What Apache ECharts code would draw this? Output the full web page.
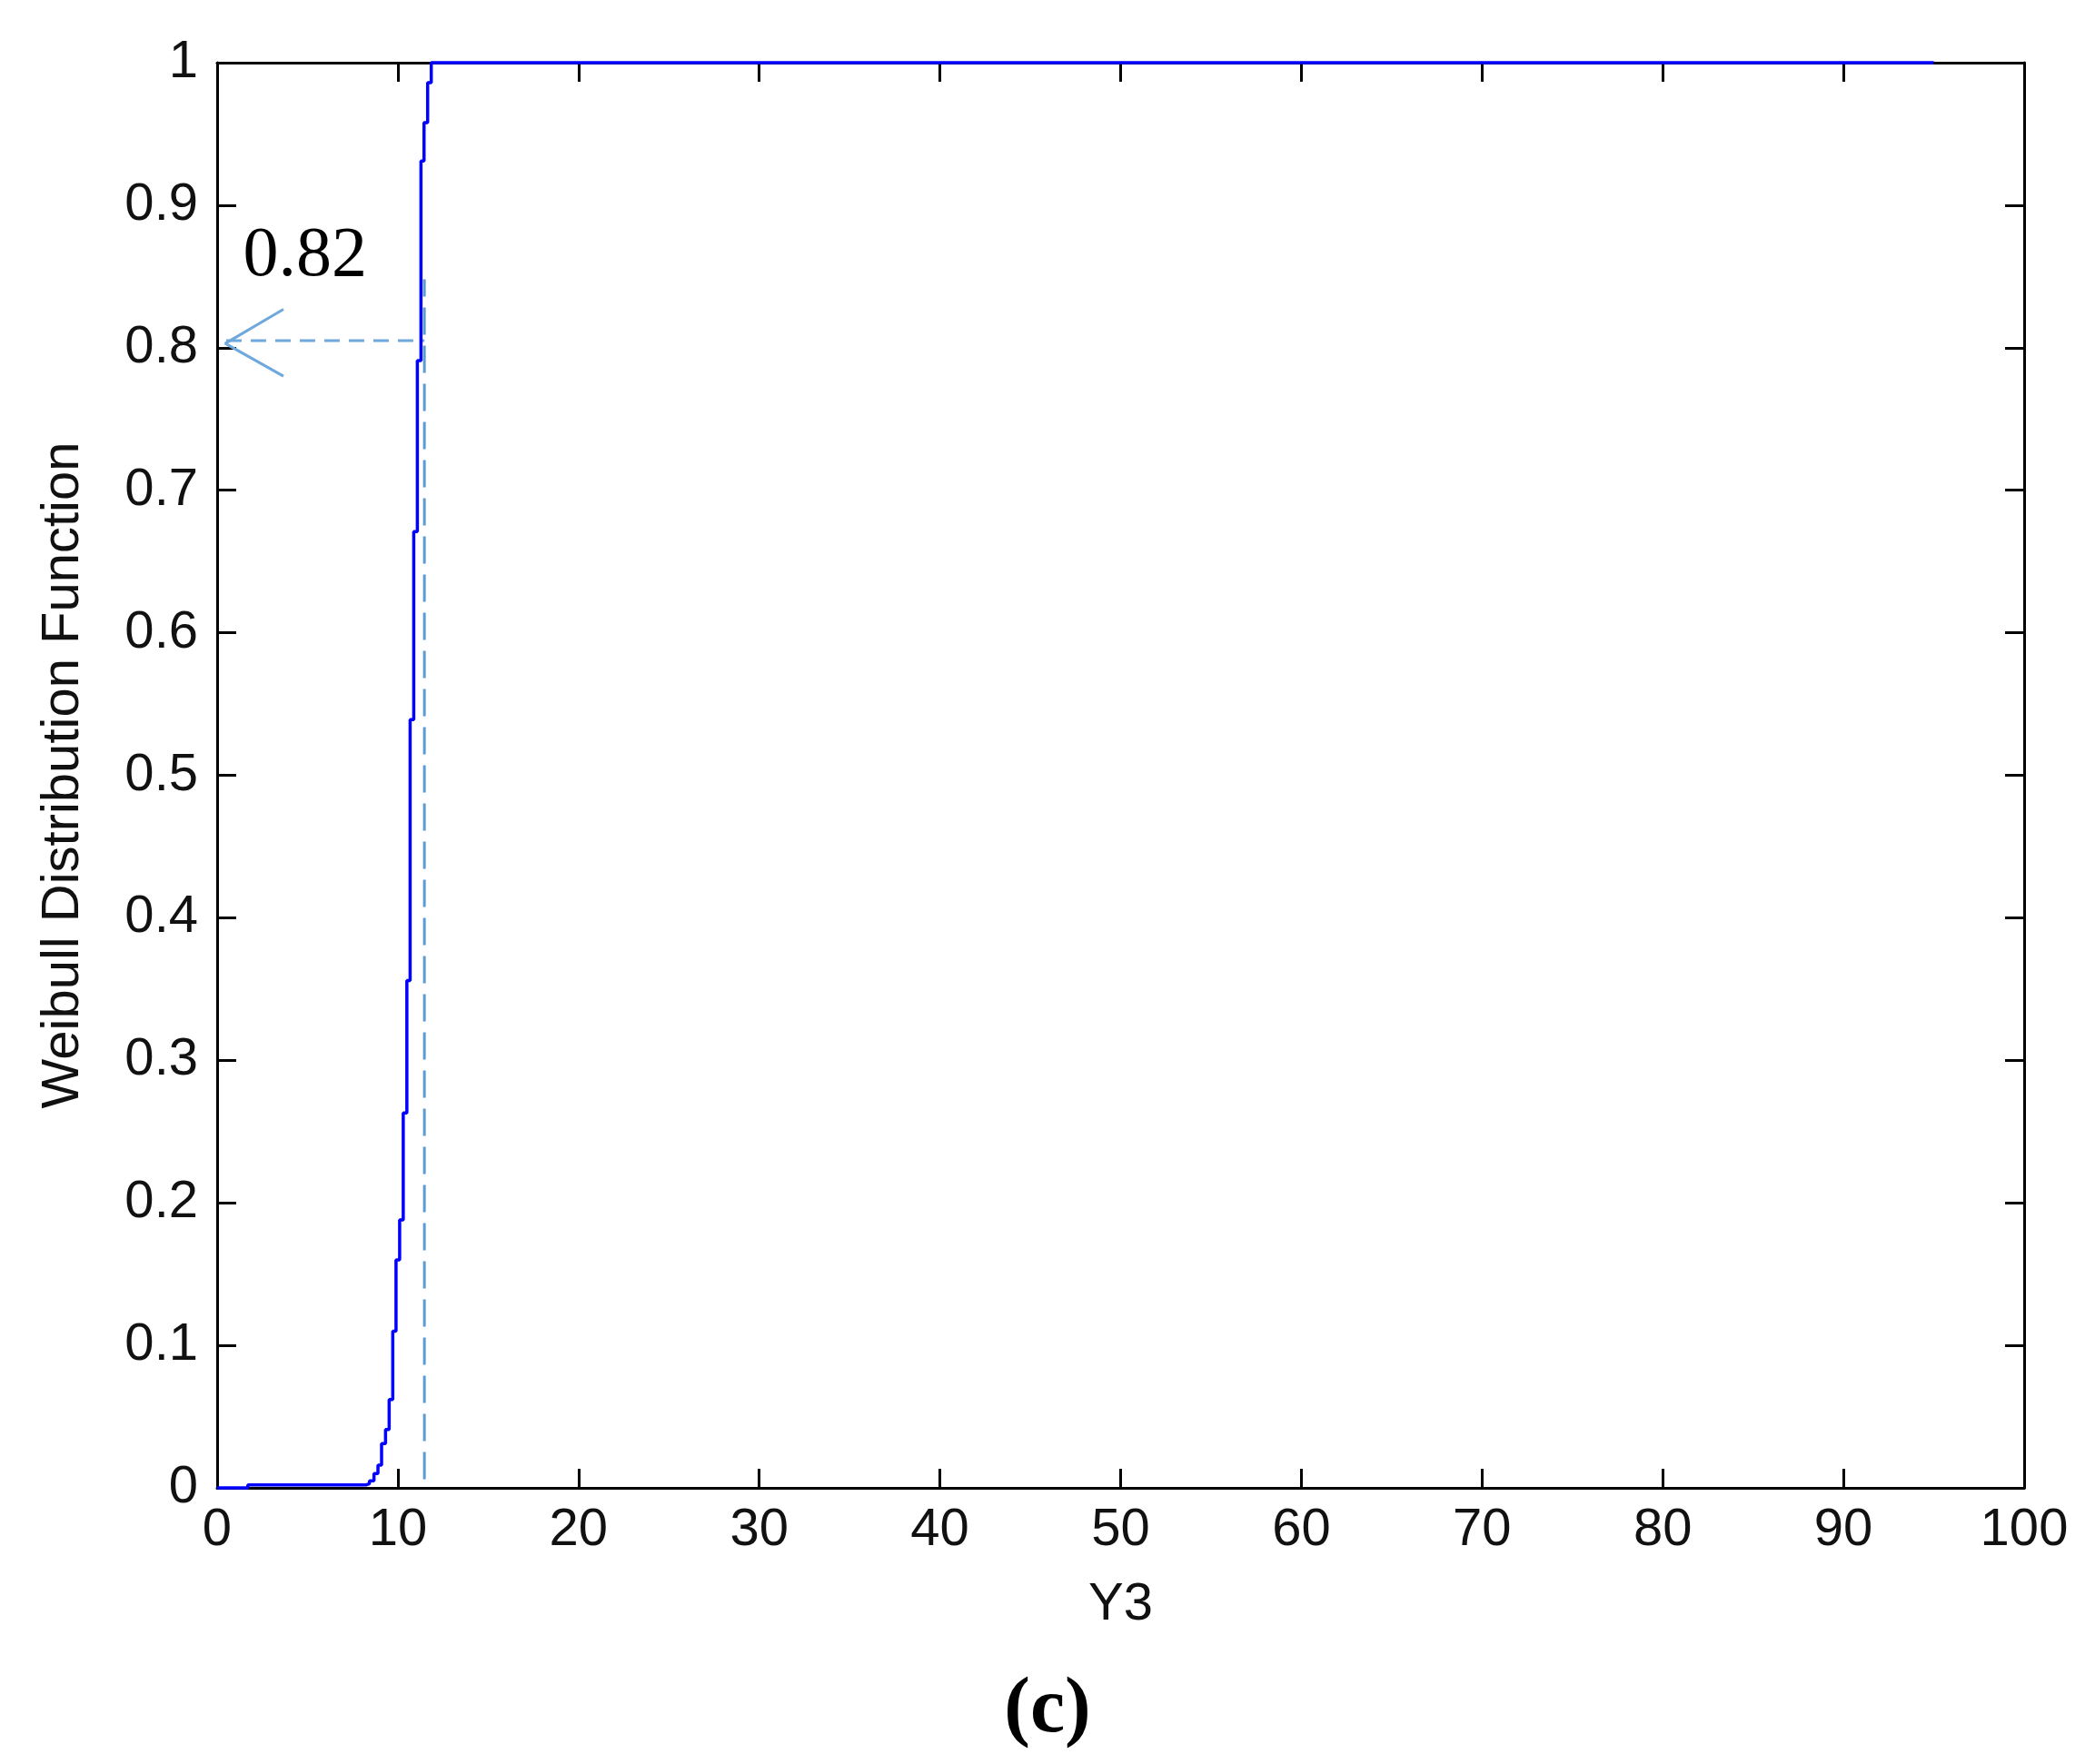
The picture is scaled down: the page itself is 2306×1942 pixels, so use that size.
<!DOCTYPE html>
<html><head><meta charset="utf-8">
<script src="https://cdn.jsdelivr.net/npm/echarts@6/dist/echarts.min.js"></script>
<style>html,body{margin:0;padding:0;background:#fff}#c{width:2306px;height:1942px}</style>
</head><body><div id="c"></div>
<script>
// Weibull CDF curve
const cdfX = [0, 1.7, 8.23, 8.43, 8.68, 8.9, 9.1, 9.32, 9.52, 9.72, 9.9, 10.1, 10.3, 10.5, 10.68, 10.88, 11.08, 11.28, 11.45, 11.65, 11.85, 95];
const cdfY = [0, 0.002, 0.003, 0.005, 0.01, 0.016, 0.031, 0.041, 0.062, 0.11, 0.16, 0.188, 0.263, 0.356, 0.539, 0.671, 0.791, 0.931, 0.958, 0.986, 1.0, 1.0];
// read-off guide lines
const guideVX = [11.47, 11.47];
const guideVY = [0.006, 0.848];
const guideHX = [0.5, 11.47];
const guideHY = [0.805, 0.805];
// arrow head
const arrowX = [3.67, 0.45, 3.67];
const arrowY = [0.827, 0.803, 0.78];
// annotation
const annotText = ['0.82'];
const annotX = [1.41];
const annotY = [0.864];
// axes
const xMin = 0, xMax = 100, xStep = 10;
const yMin = 0, yMax = 1, yStep = 0.1;
const xName = 'Y3';
const yName = 'Weibull Distribution Function';
const caption = '(c)';

const zip = (a, b) => a.map((v, i) => [v, b[i]]);
const sans = "'Liberation Sans', Arial, sans-serif";
const serif = "'Liberation Serif', 'Times New Roman', serif";
const axisLine = {show: true, onZero: false, lineStyle: {color: '#000', width: 3}};
const axisTick = {show: true, inside: true, length: 21, lineStyle: {color: '#000', width: 3}};
const lblStyle = {fontSize: 58, color: '#111', fontFamily: sans};

const chart = echarts.init(document.getElementById('c'), null, {renderer: 'canvas'});
chart.setOption({
  animation: false,
  backgroundColor: '#fff',
  grid: {left: 239, right: 78, top: 69, bottom: 304, containLabel: false},
  xAxis: [
    {type: 'value', min: xMin, max: xMax, interval: xStep, position: 'bottom',
     axisLine, axisTick, splitLine: {show: false},
     axisLabel: Object.assign({margin: 18, showMinLabel: true, showMaxLabel: true}, lblStyle),
     name: xName, nameLocation: 'middle', nameGap: 100,
     nameTextStyle: {fontSize: 58, color: '#111', fontFamily: sans}},
    {type: 'value', min: xMin, max: xMax, interval: xStep, position: 'top',
     axisLine, axisTick, splitLine: {show: false}, axisLabel: {show: false}}
  ],
  yAxis: [
    {type: 'value', min: yMin, max: yMax, interval: yStep, position: 'left',
     axisLine, axisTick, splitLine: {show: false},
     axisLabel: Object.assign({margin: 21, showMinLabel: true, showMaxLabel: true}, lblStyle),
     name: yName, nameLocation: 'middle', nameGap: 140, nameRotate: 90,
     nameTextStyle: {fontSize: 58, color: '#111', fontFamily: sans}},
    {type: 'value', min: yMin, max: yMax, interval: yStep, position: 'right',
     axisLine, axisTick, splitLine: {show: false}, axisLabel: {show: false}}
  ],
  series: [
    {type: 'line', name: 'guideV', data: zip(guideVX, guideVY), showSymbol: false, silent: true,
     lineStyle: {color: '#5B9BD5', width: 3, type: [30, 12]}, z: 3},
    {type: 'line', name: 'guideH', data: zip(guideHX, guideHY), showSymbol: false, silent: true,
     lineStyle: {color: '#6FA8DC', width: 3, type: [17, 10]}, z: 3},
    {type: 'line', name: 'arrow', data: zip(arrowX, arrowY), showSymbol: false, silent: true,
     lineStyle: {color: '#6FA8DC', width: 3}, z: 3},
    {type: 'line', name: 'cdf', data: zip(cdfX, cdfY), step: 'end', showSymbol: false, silent: true,
     clip: false, lineStyle: {color: '#0000FF', width: 3.5}, z: 5},
    {type: 'scatter', name: 'annot', data: zip(annotX, annotY), symbolSize: 1, silent: true,
     itemStyle: {color: 'rgba(0,0,0,0)', opacity: 1},
     label: {show: true, position: 'right', distance: 0, formatter: () => annotText[0],
             verticalAlign: 'middle', align: 'left',
             fontSize: 78, color: '#000', fontFamily: serif}, z: 6}
  ],
  graphic: [
    {type: 'text', x: 1153, y: 1884, silent: true,
     style: {text: caption, font: "bold 86px 'Liberation Serif', 'Times New Roman', serif",
             fill: '#000', align: 'center', verticalAlign: 'middle'}}
  ]
});
</script></body></html>
